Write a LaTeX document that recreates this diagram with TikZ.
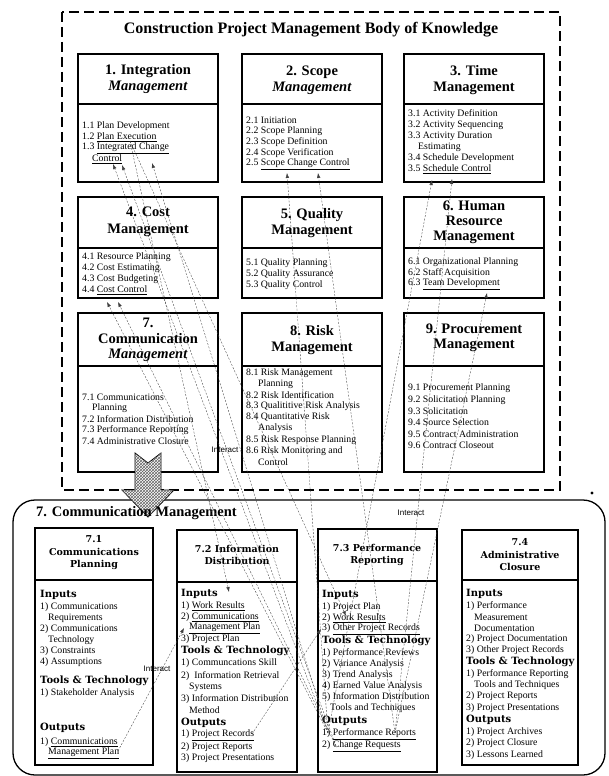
\documentclass[tikz,border=0pt]{standalone}
\usepackage{fontspec}
\setmainfont{Liberation Serif}
\newfontfamily\hdrfont{DejaVu Serif}
\newfontfamily\lblfont{Liberation Sans}
\usetikzlibrary{arrows.meta,patterns}
\begin{document}
\begin{tikzpicture}[x=1pt,y=-1pt,
  kbox/.style={draw, line width=1.1pt},
  khdr/.style={font=\bfseries\fontsize{14.5}{16.5}\selectfont, align=center, inner sep=0pt},
  itm/.style={font=\fontsize{9.8}{11}\selectfont, anchor=west, inner sep=0pt},
  shdr/.style={font=\hdrfont\bfseries\fontsize{9.5}{12.5}\selectfont, align=center, inner sep=0pt},
  sec/.style={font=\hdrfont\bfseries\fontsize{10}{11}\selectfont, anchor=west, inner sep=0pt},
  conn/.style={draw=black!75, line width=0.35pt, dash pattern=on 2pt off 1.5pt, -{Latex[length=5pt,width=3.5pt]}},
  ilbl/.style={font=\lblfont\fontsize{8}{9}\selectfont, inner sep=0.5pt},
]
\useasboundingbox (0,0) rectangle (608,776);

% outer dashed frame
\draw[line width=1.2pt, dash pattern=on 10pt off 5pt] (62,12) rectangle (560,490);
\node[font=\bfseries\fontsize{16}{18}\selectfont] (title) at (311,30) {Construction Project Management Body of Knowledge};

% ---------- row 1 ----------
\draw[kbox] (78,54) rectangle (218,182);  \draw[kbox] (78,104) -- (218,104);
\draw[kbox] (242,54) rectangle (382,182); \draw[kbox] (242,104) -- (382,104);
\draw[kbox] (404,54) rectangle (544,182); \draw[kbox] (404,104) -- (544,104);
\node[khdr] (h1) at (148,79) {1. Integration\\\textit{Management}};
\node[khdr] (h2) at (312,80) {2. Scope\\\textit{Management}};
\node[khdr] (h3) at (474,80) {3. Time\\Management};

\node[itm] (i11) at (82,126) {1.1 Plan Development};
\node[itm] (i12) at (82,137) {1.2 \underline{Plan Execution}};
\node[itm] (i13) at (82,148) {1.3 \underline{Integrated Change}};
\node[itm] (i13b) at (92,159) {\underline{Control}};

\node[itm] (i21) at (246,120) {2.1 Initiation};
\node[itm] (i22) at (246,131) {2.2 Scope Planning};
\node[itm] (i23) at (246,142) {2.3 Scope Definition};
\node[itm] (i24) at (246,153) {2.4 Scope Verification};
\node[itm] (i25) at (246,164) {2.5 \underline{Scope Change Control}};

\node[itm] (i31) at (408,114) {3.1 Activity Definition};
\node[itm] (i32) at (408,125) {3.2 Activity Sequencing};
\node[itm] (i33) at (408,136) {3.3 Activity Duration};
\node[itm] (i33b) at (418,147) {Estimating};
\node[itm] (i34) at (408,158) {3.4 Schedule Development};
\node[itm] (i35) at (408,169) {3.5 \underline{Schedule Control}};

% ---------- row 2 ----------
\draw[kbox] (78,197) rectangle (218,298);  \draw[kbox] (78,248) -- (218,248);
\draw[kbox] (242,197) rectangle (382,298); \draw[kbox] (242,248) -- (382,248);
\draw[kbox] (404,197) rectangle (544,298); \draw[kbox] (404,248) -- (544,248);
\node[khdr] (h4) at (148,222) {4. Cost\\Management};
\node[khdr] (h5) at (312,223) {5. Quality\\Management};
\node[khdr, font=\bfseries\fontsize{14.5}{15}\selectfont] (h6) at (474,222) {6. Human\\Resource\\Management};

\node[itm] (i41) at (82,257) {4.1 Resource Planning};
\node[itm] (i42) at (82,268) {4.2 Cost Estimating};
\node[itm] (i43) at (82,279) {4.3 Cost Budgeting};
\node[itm] (i44) at (82,290) {4.4 \underline{Cost Control}};

\node[itm] (i51) at (246,263) {5.1 Quality Planning};
\node[itm] (i52) at (246,274) {5.2 Quality Assurance};
\node[itm] (i53) at (246,285) {5.3 Quality Control};

\node[itm] (i61) at (408,262) {6.1 Organizational Planning};
\node[itm] (i62) at (408,273) {6.2 Staff Acquisition};
\node[itm] (i63) at (408,284) {6.3 \underline{Team Development}};

% ---------- row 3 ----------
\draw[kbox] (78,313) rectangle (218,472);  \draw[kbox] (78,366) -- (218,366);
\draw[kbox] (242,313) rectangle (382,472); \draw[kbox] (242,366) -- (382,366);
\draw[kbox] (404,313) rectangle (544,472); \draw[kbox] (404,366) -- (544,366);
\node[khdr, font=\bfseries\fontsize{14.5}{15.5}\selectfont] (h7) at (148,340) {7.\\Communication\\\textit{Management}};
\node[khdr] (h8) at (312,340) {8. Risk\\Management};
\node[khdr, font=\bfseries\fontsize{14.5}{15}\selectfont] (h9) at (474,338) {9. Procurement\\Management};

\node[itm] (i71) at (82,397) {7.1 Communications};
\node[itm] (i71b) at (92,408) {Planning};
\node[itm] (i72) at (82,419) {7.2 Information Distribution};
\node[itm] (i73) at (82,430) {7.3 Performance Reporting};
\node[itm] (i74) at (82,441) {7.4 Administrative Closure};

\node[itm] (i81) at (246,373) {8.1 Risk Management};
\node[itm] (i81b) at (258,384) {Planning};
\node[itm] (i82) at (246,395) {8.2 Risk Identification};
\node[itm] (i83) at (246,406) {8.3 Qualititive Risk Analysis};
\node[itm] (i84) at (246,417) {8.4 Quantitative Risk};
\node[itm] (i84b) at (258,428) {Analysis};
\node[itm] (i85) at (246,440) {8.5 Risk Response Planning};
\node[itm] (i86) at (246,451) {8.6 Risk Monitoring and};
\node[itm] (i86b) at (258,462) {Control};

\node[itm] (i91) at (408,388) {9.1 Procurement Planning};
\node[itm] (i92) at (408,400) {9.2 Solicitation Planning};
\node[itm] (i93) at (408,411) {9.3 Solicitation};
\node[itm] (i94) at (408,422) {9.4 Source Selection};
\node[itm] (i95) at (408,434) {9.5 Contract Administration};
\node[itm] (i96) at (408,445) {9.6 Contract Closeout};

% ---------- bottom frame ----------
\draw[line width=1.3pt, rounded corners=22pt] (13,500) rectangle (605,775);
\fill (592,493) circle (1.6);

% big hatched arrow
\filldraw[fill=white, line width=0.8pt] (135,453) -- (148,463) -- (161,453) -- (161,490) -- (174,490) -- (148,517) -- (122,490) -- (135,490) -- cycle;
\path[pattern=crosshatch, pattern color=black!60] (135,453) -- (148,463) -- (161,453) -- (161,490) -- (174,490) -- (148,517) -- (122,490) -- (135,490) -- cycle;

\node[font=\bfseries\fontsize{14.5}{16}\selectfont, anchor=west, inner sep=0pt] (cmt) at (36,513) {7. Communication Management};

% sub boxes
\draw[kbox] (35,528) rectangle (153,765);  \draw[kbox] (35,580) -- (153,580);
\draw[kbox] (177,530) rectangle (297,772); \draw[kbox] (177,582) -- (297,582);
\draw[kbox] (318,529) rectangle (437,772); \draw[kbox] (318,581) -- (437,581);
\draw[kbox] (462,530) rectangle (578,765); \draw[kbox] (462,580) -- (578,580);

\node[shdr] (s1) at (94,553) {7.1\\Communications\\Planning};
\node[shdr] (s2) at (237,555) {7.2 Information\\Distribution};
\node[shdr] (s3) at (377,555) {7.3 Performance\\Reporting};
\node[shdr] (s4) at (520,555) {7.4\\Administrative\\Closure};

% 7.1
\node[sec] (a0) at (40,595) {Inputs};
\node[itm] (a1) at (40,607) {1) Communications};
\node[itm] (a1b) at (48,618) {Requirements};
\node[itm] (a2) at (40,629) {2) Communications};
\node[itm] (a2b) at (48,640) {Technology};
\node[itm] (a3) at (40,651) {3) Constraints};
\node[itm] (a4) at (40,662) {4) Assumptions};
\node[sec] (a5) at (40,681) {Tools \& Technology};
\node[itm] (a6) at (40,693) {1) Stakeholder Analysis};
\node[sec] (a7) at (40,728) {Outputs};
\node[itm] (a8) at (40,742) {1) \underline{Communications}};
\node[itm] (a8b) at (48,753) {\underline{Management Plan}};

% 7.2
\node[sec] (b0) at (181,594) {Inputs};
\node[itm] (b1) at (181,606) {1) \underline{Work Results}};
\node[itm] (b2) at (181,617) {2) \underline{Communications}};
\node[itm] (b2b) at (189,628) {\underline{Management Plan}};
\node[itm] (b3) at (181,639) {3) Project Plan};
\node[sec] (b4) at (181,651) {Tools \& Technology};
\node[itm] (b5) at (181,663) {1) Communcations Skill};
\node[itm] (b6) at (181,676) {2)\ \ Information Retrieval};
\node[itm] (b6b) at (189,687) {Systems};
\node[itm] (b7) at (181,699) {3) Information Distribution};
\node[itm] (b7b) at (189,710) {Method};
\node[sec] (b8) at (181,723) {Outputs};
\node[itm] (b9) at (181,735) {1) \underline{Project Records}};
\node[itm] (b10) at (181,747) {2) Project Reports};
\node[itm] (b11) at (181,758) {3) Project Presentations};

% 7.3
\node[sec] (c0) at (322,595) {Inputs};
\node[itm] (c1) at (322,607) {1) Project Plan};
\node[itm] (c2) at (322,618) {2) \underline{Work Results}};
\node[itm] (c3) at (322,629) {3) \underline{Other Project Records}};
\node[sec] (c4) at (322,641) {Tools \& Technology};
\node[itm] (c5) at (322,653) {1) Performance Reviews};
\node[itm] (c6) at (322,664) {2) Variance Analysis};
\node[itm] (c7) at (322,675) {3) Trend Analysis};
\node[itm] (c8) at (322,686) {4) Earned Value Analysis};
\node[itm] (c9) at (322,697) {5) Information Distribution};
\node[itm] (c9b) at (330,708) {Tools and Techniques};
\node[sec] (c10) at (322,721) {Outputs};
\node[itm] (c11) at (322,734) {1) \underline{Performance Reports}};
\node[itm] (c12) at (322,746) {2) \underline{Change Requests}};

% 7.4
\node[sec] (d0) at (466,594) {Inputs};
\node[itm] (d1) at (466,606) {1) Performance};
\node[itm] (d1b) at (474,617) {Measurement};
\node[itm] (d1c) at (474,628) {Documentation};
\node[itm] (d2) at (466,639) {2) Project Documentation};
\node[itm] (d3) at (466,650) {3) Other Project Records};
\node[sec] (d4) at (466,662) {Tools \& Technology};
\node[itm] (d5) at (466,674) {1) Performance Reporting};
\node[itm] (d5b) at (474,685) {Tools and Techniques};
\node[itm] (d6) at (466,696) {2) Project Reports};
\node[itm] (d7) at (466,708) {3) Project Presentations};
\node[sec] (d8) at (466,720) {Outputs};
\node[itm] (d9) at (466,732) {1) Project Archives};
\node[itm] (d10) at (466,743) {2) Project Closure};
\node[itm] (d11) at (466,755) {3) Lessons Learned};

% ---------- connectors ----------
\coordinate (t13a) at (113,164);
\coordinate (t13b) at (122,165);
\coordinate (t12) at (152,163);
\coordinate (t25a) at (287,173);
\coordinate (t25b) at (318,173);
\coordinate (t35a) at (432,180);
\coordinate (t35b) at (452,179);
\coordinate (t44a) at (107,302);
\coordinate (t44b) at (118,302);
\coordinate (t63) at (487,293);
\coordinate (pr1) at (328,733);
\coordinate (pr2) at (395,733);
\coordinate (cr1) at (336,746);
\coordinate (pe) at (130,141);
\coordinate (in72) at (229,592);
\coordinate (wr73) at (346,616);
\coordinate (mp72) at (184,628);
\coordinate (mp71) at (118,751);
\coordinate (rec72) at (252,734);
\coordinate (opr73) at (321,629);

\draw[conn] (pr1) -- (t13a);
\draw[conn] (cr1) -- (t13b);
\draw[conn] (pr1) -- (t12);
\draw[conn] (pr1) -- (t44a);
\draw[conn] (cr1) -- (t44b);
\draw[conn] (pr1) -- (t25a);
\draw[conn] (pr2) -- (t25b);
\draw[conn] (pr1) -- (t35a);
\draw[conn] (pr2) -- (t35b);
\draw[conn] (pr2) -- (t63);
\draw[conn] (pe) -- (in72);
\draw[conn] (pe) -- (wr73);
\draw[conn] (mp71) -- (mp72);
\draw[conn] (rec72) -- (opr73);

\node[ilbl] (int1) at (225,450) {Interact};
\node[ilbl] (int2) at (411,513) {Interact};
\node[ilbl] (int3) at (157,669) {Interact};
\end{tikzpicture}
\end{document}
